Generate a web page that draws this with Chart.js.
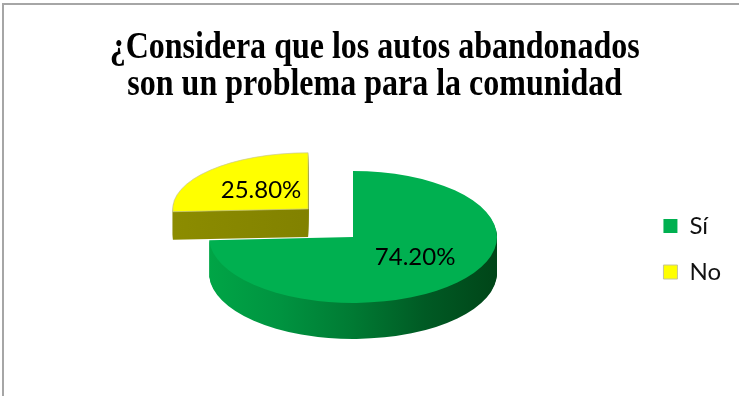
<!DOCTYPE html>
<html><head><meta charset="utf-8">
<script src="https://cdn.jsdelivr.net/npm/chart.js@4.4.1/dist/chart.umd.min.js"></script>
<style>
html,body{margin:0;padding:0;background:#fff;}
#wrap{position:relative;width:739px;height:396px;overflow:hidden;background:#fff;}
canvas{position:absolute;left:0;top:0;}
#frame{position:absolute;left:2px;top:3px;width:737px;height:393px;border-left:2px solid #a6a6a6;border-top:2px solid #a6a6a6;box-sizing:border-box;pointer-events:none;}
#title{position:absolute;left:11px;top:27px;width:728px;font-family:"Liberation Serif","Times New Roman",serif;font-weight:bold;font-size:38px;line-height:37px;color:#000;}
#title div{white-space:nowrap;text-align:center;}
#title span{display:inline-block;transform-origin:50% 50%;}
</style></head><body>
<div id="wrap">
<canvas id="c" width="739" height="396"></canvas>
<div id="title"><div><span id="t1"></span></div><div><span id="t2"></span></div></div>
<div id="frame"></div>
</div>
<script>
const titleLines = ['¿Considera que los autos abandonados', 'son un problema para la comunidad'];
const categories = ['Sí', 'No'];
const values = [74.2, 25.8];
const topColors = ['#00B050', '#FFFF00'];

const t1 = document.getElementById('t1'), t2 = document.getElementById('t2');
t1.textContent = titleLines[0];
t2.textContent = titleLines[1];
function fitTitle(){
  const w = t1.getBoundingClientRect().width;
  const s = 530 / w;
  t1.style.transform = 'scaleX(' + s + ')';
  t2.style.transform = 'scaleX(' + s + ')';
}

const pie3d = {
  id: 'pie3d',
  beforeDatasetsDraw(chart, args, o) {
    const ctx = chart.ctx;
    const meta = chart.getDatasetMeta(0);
    const arcs = meta.data;
    const labels = [];
    o.order.forEach(i => {
      const arc = arcs[i], p = o.parts[i];
      const X = o.cx + p.dx, Y = o.cy + p.dy;
      const sx = p.s, sy = o.k * p.sy;
      const R = arc.outerRadius;
      const place = (d) => { ctx.translate(X, Y + d); ctx.scale(sx, sy); ctx.translate(-arc.x, -arc.y); };
      let fill;
      if (p.side.length > 1) {
        fill = ctx.createLinearGradient(arc.x - R, 0, arc.x + R, 0);
        p.side.forEach((c, j) => fill.addColorStop(j / (p.side.length - 1), c));
      } else fill = p.side[0];
      const side = Object.create(arc);
      side.options = Object.assign({}, arc.options, {backgroundColor: fill, borderWidth: 0});
      for (let d = p.depth; d >= 1; d--) {
        ctx.save(); place(d); side.draw(ctx); ctx.restore();
      }
      ctx.save(); place(0); arc.draw(ctx); ctx.restore();
      const mid = (arc.startAngle + arc.endAngle) / 2;
      const off = (arc.options.offset || 0) / 4;
      const rr = off + p.f * R;
      labels.push({
        x: X + Math.cos(mid) * rr * sx,
        y: Y + Math.sin(mid) * rr * sy + p.ly,
        text: values[i].toFixed(2) + '%'
      });
    });
    ctx.save();
    ctx.font = o.labelFont;
    ctx.fillStyle = '#000';
    ctx.textAlign = 'center';
    ctx.textBaseline = 'middle';
    labels.forEach(l => ctx.fillText(l.text, l.x, l.y));
    ctx.restore();
    return false;
  }
};

function draw(){
  fitTitle();
  new Chart(document.getElementById('c'), {
    type: 'pie',
    data: {
      labels: categories,
      datasets: [{
        data: values,
        backgroundColor: topColors,
        borderWidth: [0, 1],
        borderColor: ['#00B050', '#c4c49a'],
        offset: [0, 240],
        radius: 144
      }]
    },
    options: {
      responsive: false,
      animation: false,
      events: [],
      layout: {padding: {top: 102, right: 8, bottom: 0, left: 0}},
      plugins: {
        legend: {
          position: 'right',
          labels: {boxWidth: 14, boxHeight: 14, padding: 22, color: '#111', font: {family: 'Lato', size: 24}}
        },
        title: {display: false},
        tooltip: {enabled: false},
        pie3d: {
          cx: 353, cy: 237, k: 0.458,
          order: [1, 0],
          labelFont: '24px Lato',
          parts: [
            {dx: 0, dy: 0, s: 1, sy: 1, depth: 36, side: ['#00a546', '#009340', '#007a33', '#005a24', '#004518'], f: 0.595, ly: -7},
            {dx: -4, dy: -12, s: 0.94, sy: 0.85, depth: 28, side: ['#8c8c00', '#777700'], f: 0.48, ly: 0}
          ]
        }
      }
    },
    plugins: [pie3d]
  });
}
const fl = document.fonts ? Promise.all([
  document.fonts.load('24px Lato'),
  document.fonts.load('bold 38px "Liberation Serif"')
]).catch(() => {}) : Promise.resolve();
fl.then(draw, draw);
</script>
</body></html>
